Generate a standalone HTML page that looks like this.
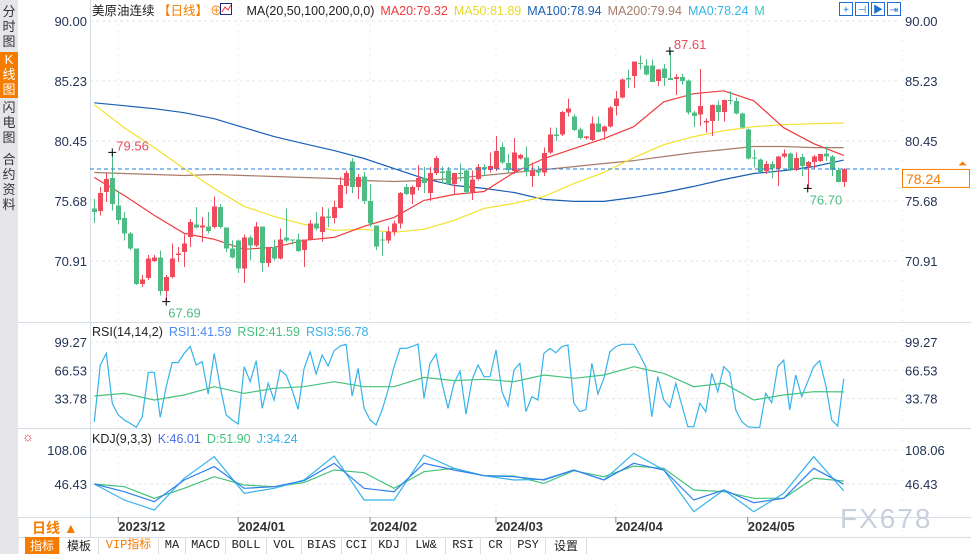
<!DOCTYPE html>
<html><head><meta charset="utf-8">
<style>
html,body{margin:0;padding:0;background:#fff;}
body{width:971px;height:554px;overflow:hidden;position:relative;font-family:"Liberation Sans","Noto Sans CJK SC",sans-serif;}
svg{position:absolute;left:0;top:0;}
.sb{position:absolute;left:0;width:18px;background:#e6e6ea;color:#333;font-size:13px;line-height:15px;text-align:center;}
.tb{position:absolute;top:537px;height:17px;font-size:12px;line-height:17px;text-align:center;border-right:1px solid #ddd;color:#222;font-family:"Liberation Mono","Noto Sans CJK SC",monospace;}
</style></head><body>
<div class="sb" style="top:0;height:554px;"></div>
<div class="sb" style="top:4px;height:46px;">分<br>时<br>图</div>
<div class="sb" style="top:52px;height:46px;background:#f57c00;color:#fff;">K<br>线<br>图</div>
<div class="sb" style="top:100px;height:46px;">闪<br>电<br>图</div>
<div class="sb" style="top:152px;height:62px;">合<br>约<br>资<br>料</div>

<svg id="chart" width="971" height="554" font-family="Liberation Sans, Noto Sans CJK SC, sans-serif"></svg>

<div class="tb" style="left:25px;width:34px;background:#f57c00;color:#fff;font-family:'Noto Sans CJK SC',sans-serif;">指标</div>
<div class="tb" style="left:60px;width:38px;font-family:'Noto Sans CJK SC',sans-serif;">模板</div>
<div class="tb" style="left:99px;width:59px;color:#f57c00;">VIP指标</div>
<div class="tb" style="left:159px;width:26px;">MA</div>
<div class="tb" style="left:186px;width:39px;">MACD</div>
<div class="tb" style="left:226px;width:40px;">BOLL</div>
<div class="tb" style="left:267px;width:34px;">VOL</div>
<div class="tb" style="left:302px;width:39px;">BIAS</div>
<div class="tb" style="left:342px;width:29px;">CCI</div>
<div class="tb" style="left:372px;width:34px;">KDJ</div>
<div class="tb" style="left:407px;width:38px;">LW&amp;</div>
<div class="tb" style="left:446px;width:34px;">RSI</div>
<div class="tb" style="left:481px;width:29px;">CR</div>
<div class="tb" style="left:511px;width:34px;">PSY</div>
<div class="tb" style="left:546px;width:40px;font-family:'Noto Sans CJK SC',sans-serif;">设置</div>

<script>
const opens=[75.08,74.89,76.40,77.53,75.34,74.36,73.10,71.91,69.08,69.58,70.93,71.19,68.55,69.66,71.38,71.64,72.83,73.81,73.57,73.68,73.62,75.21,73.57,71.91,72.57,70.32,72.78,72.17,73.68,70.77,72.04,71.11,72.78,72.65,72.65,71.78,72.65,73.89,73.23,74.47,74.34,75.13,76.87,78.83,76.79,77.64,75.68,73.76,72.65,72.57,73.23,73.89,76.79,76.19,76.79,77.53,76.32,77.90,78.03,78.11,77.06,77.90,78.11,76.40,77.45,78.41,78.17,78.22,79.99,78.70,78.09,79.07,79.14,77.69,78.09,77.96,79.54,80.99,80.99,82.71,82.39,81.39,80.68,80.54,81.86,81.20,81.60,83.24,83.90,85.48,85.61,86.67,86.46,86.46,85.22,86.22,85.48,85.40,85.56,85.27,82.71,82.58,81.92,82.05,83.32,82.76,83.71,83.63,82.66,81.39,79.14,79.01,78.09,78.62,78.27,79.22,79.46,78.17,79.20,78.43,78.80,78.88,79.46,79.22,78.14,77.22];
const closes=[74.81,76.34,77.45,75.47,74.20,73.10,71.91,69.08,69.45,71.11,71.19,68.55,69.66,71.11,71.51,72.30,74.02,73.57,73.76,73.31,75.26,73.62,71.91,71.19,70.32,72.78,72.17,73.68,70.77,72.04,71.11,72.65,72.57,72.57,71.70,72.65,73.89,73.49,74.47,74.34,75.21,76.98,77.90,76.79,77.58,75.68,73.89,72.09,72.57,73.28,73.89,76.32,76.26,76.79,77.53,77.11,77.90,79.09,77.90,77.06,77.90,77.85,76.40,77.40,78.38,78.22,78.48,79.67,78.75,78.17,79.54,79.33,78.04,78.09,77.96,79.49,80.99,80.86,82.76,83.05,81.34,80.68,80.81,81.86,81.18,81.60,83.11,83.82,85.35,85.35,86.78,86.59,85.75,85.17,86.14,85.48,85.30,85.56,85.22,82.71,82.45,83.24,82.05,83.32,82.76,83.71,83.63,82.66,81.52,79.07,79.07,78.01,78.62,78.27,79.22,79.46,78.17,79.09,78.48,78.80,79.22,79.41,79.22,78.17,77.22,78.24];
const highs=[75.87,76.79,77.90,79.56,76.53,74.81,73.23,71.91,69.79,71.38,71.38,71.77,69.79,72.30,72.04,73.04,74.28,75.21,74.42,74.81,76.05,75.47,73.57,72.57,72.62,73.04,72.96,74.02,73.68,72.04,72.62,73.49,75.08,72.65,73.10,72.65,74.20,74.81,75.21,75.08,75.74,77.58,78.11,79.12,77.85,77.98,77.06,73.76,73.23,73.68,74.15,76.40,77.06,76.92,78.56,78.38,78.38,79.25,78.43,78.38,77.90,78.69,78.25,78.11,78.64,78.62,79.54,80.86,80.33,79.41,80.68,79.41,80.02,78.75,78.48,79.94,81.52,81.52,82.84,83.82,82.58,81.52,80.86,82.39,82.39,81.71,83.24,84.43,85.43,86.14,86.80,87.25,86.94,86.94,86.20,86.59,87.61,85.80,85.80,85.35,82.84,86.20,82.23,83.37,83.69,83.77,84.43,83.90,82.71,81.44,79.80,79.07,78.88,78.88,79.28,79.80,79.54,79.54,79.41,78.88,79.33,79.41,80.02,79.33,78.35,78.30];
const lows=[73.94,74.55,75.60,74.94,73.83,72.57,71.78,69.00,68.87,69.40,70.85,68.16,67.69,69.53,70.85,70.45,72.04,73.49,72.44,73.10,73.49,73.49,71.64,71.11,69.98,69.19,70.98,72.04,70.06,70.45,70.98,71.06,72.44,72.25,71.64,70.45,72.57,73.36,72.49,73.62,73.89,75.08,76.26,76.32,75.87,75.47,73.62,71.78,71.33,72.30,72.96,73.49,76.13,75.47,76.53,76.32,75.68,77.77,77.11,76.98,76.26,77.24,76.26,75.79,77.32,77.69,77.96,78.09,78.62,77.96,77.82,79.01,77.64,76.82,77.69,77.69,79.41,80.47,80.86,82.39,81.26,80.60,80.60,80.47,81.13,80.54,81.52,82.50,83.82,84.69,84.69,86.14,85.67,85.14,84.82,84.82,85.30,84.11,84.95,82.58,81.57,81.65,81.13,80.86,82.05,82.00,83.37,82.58,81.44,79.01,78.35,77.96,77.82,77.48,76.90,79.09,78.09,78.09,77.69,76.70,78.22,78.80,78.88,77.69,77.16,76.82];
// moving averages sampled every 5 candles (index 0,5,...,125)
const ma20=[77.56,76.13,74.55,73.12,72.65,71.85,72.01,72.57,72.80,73.68,74.39,75.74,76.21,76.45,77.96,79.07,79.86,80.65,81.60,83.58,84.22,84.45,83.66,81.52,80.25,79.32];
const ma50=[83.34,81.52,79.94,78.27,76.69,75.26,74.47,73.83,73.36,73.44,73.20,73.44,74.15,75.10,75.50,76.05,77.08,77.96,79.14,80.17,80.81,81.28,81.60,81.76,81.84,81.89];
const ma100=[83.50,83.27,83.03,82.71,82.23,81.52,80.81,80.25,79.70,79.07,78.27,77.48,76.93,76.69,76.37,75.82,75.66,75.66,75.97,76.37,76.85,77.40,77.88,78.11,78.43,78.94];
const ma200=[77.96,77.88,77.80,77.72,77.80,77.72,77.64,77.56,77.48,77.32,77.24,77.32,77.48,77.72,77.96,78.19,78.43,78.67,78.90,79.22,79.54,79.78,80.02,80.02,79.94,79.94];
const rsi3=[7,72.7,86.2,28.3,14.9,9.1,5.2,0.6,12.9,64.2,64.2,12.2,47.6,75.4,75.4,86.2,93.9,72.7,76.5,39.1,86.2,47.6,14.9,9.1,4.5,70.7,53.4,77.7,22.6,51.5,32.2,66.9,61.1,43.8,21.4,68.8,88.1,62.3,84.2,71.5,89.2,94.6,96.6,36.8,68.8,22.6,9.1,3.3,20.6,43.8,70.7,91.9,91.9,93.9,97.0,34.1,74.6,85.4,51.5,22.6,51.5,65.7,16.0,55.3,72.7,59.2,59.2,90.0,41.8,25.3,66.9,74.6,18.7,36.1,32.2,86.2,91.9,86.9,93.9,95.8,28.4,18.7,21.4,74.6,39.1,57.3,88.1,93.9,96.6,96.6,96.6,84.2,70.7,12.9,59.2,32.2,23.7,51.5,26.4,1.4,1.4,28.4,18.7,63.0,41.8,70.7,63.8,20.6,7.2,1.4,0.6,0.6,39.9,29.1,70.7,78.4,20.6,61.1,36.1,53.4,70.7,77.7,49.6,9.1,2.1,56.8];
const rsi1=[36.8,39.9,32.2,38.0,47.6,39.9,45.7,47.6,53.4,47.6,47.6,58.4,54.6,56.1,53.4,61.1,57.3,61.1,70.7,63.0,47.6,51.5,32.2,38.0,41.8,41.6];
const kdjK=[46.4,32.5,14.4,53.7,77.9,38.6,41.6,52.5,83.9,38.6,32.5,83.9,71.8,61.5,59.7,53.7,71.8,53.7,83.9,71.8,17.4,35.6,12.6,20.5,74.8,46.01];
const kdjD=[46.4,41.6,20.5,38.6,59.7,44.6,41.6,48.9,71.8,67.0,38.6,68.8,74.8,61.5,60.9,47.6,70.6,59.7,79.1,74.8,35.6,32.5,20.5,20.5,56.7,51.90];
const kdjJ=[46.4,17.4,-0.7,56.7,96.0,29.5,38.6,53.7,97.2,17.4,17.4,99.0,74.8,61.5,53.7,54.9,71.8,53.7,102.0,71.8,-3.7,35.6,-3.7,29.5,96.0,34.24];
const priceTicks=[90.00,85.23,80.45,75.68,70.91];
const rsiTicks=[99.27,66.53,33.78];
const kdjTicks=[108.06,46.43];
const monthLabels=["2023/12","2024/01","2024/02","2024/03","2024/04","2024/05"];
const monthIdx=[4,24,46,67,87,109];
const lastPrice=78.24;

const NS="http://www.w3.org/2000/svg";
const svg=document.getElementById('chart');
const X0=90,X1=900;
const xi=i=>94.3+i*5.995;
const yP=p=>21+(90-p)*12.58;
const yR=v=>342+(99.27-v)*0.865;
const yK=v=>450+(108.06-v)*0.5517;
function mk(tag,attrs,parent){const e=document.createElementNS(NS,tag);for(const k in attrs)e.setAttribute(k,attrs[k]);(parent||svg).appendChild(e);return e;}
function txt(s,x,y,attrs){const t=mk('text',Object.assign({x:x,y:y},attrs));t.textContent=s;return t;}

// frame lines
let g=mk('g',{});


[[18,322,971,322],[18,428,971,428],[18,517,971,517],[18,537,971,537]].forEach(a=>mk('line',{x1:a[0],y1:a[1]+0.5,x2:a[2],y2:a[3]+0.5,stroke:'#d6dde6'},g));
mk('line',{x1:X0+0.5,y1:0,x2:X0+0.5,y2:537,stroke:'#d6dde6'},g);
mk('line',{x1:X1+2.5,y1:0,x2:X1+2.5,y2:537,stroke:'#d6dde6','stroke-dasharray':'1,9'},g);

// grids & axis labels
const gg=mk('g',{});


priceTicks.forEach(p=>{const y=yP(p);mk('line',{x1:X0,y1:y,x2:X1,y2:y,stroke:'#e3e3e3','stroke-dasharray':'3,3'},gg);
 const a=txt(p.toFixed(2),905,y+5,{'font-size':13,fill:'#223355'});
 const b=txt(p.toFixed(2),87,y+5,{'font-size':13,fill:'#223355','text-anchor':'end'});});
rsiTicks.forEach(v=>{const y=yR(v);mk('line',{x1:X0,y1:y,x2:X1,y2:y,stroke:'#e3e3e3','stroke-dasharray':'3,3'},gg);
 const a=txt(v.toFixed(2),905,y+5,{'font-size':13,fill:'#223355'});
 const b=txt(v.toFixed(2),87,y+5,{'font-size':13,fill:'#223355','text-anchor':'end'});});
kdjTicks.forEach(v=>{const y=yK(v);mk('line',{x1:X0,y1:y,x2:X1,y2:y,stroke:'#e3e3e3','stroke-dasharray':'3,3'},gg);
 const a=txt(v.toFixed(2),905,y+5,{'font-size':13,fill:'#223355'});
 const b=txt(v.toFixed(2),87,y+5,{'font-size':13,fill:'#223355','text-anchor':'end'});});
monthLabels.forEach((m,k)=>{const x=xi(monthIdx[k]);
 mk('line',{x1:x,y1:0,x2:x,y2:517,stroke:'#ececec','stroke-dasharray':'2,4'},gg);
 mk('line',{x1:x,y1:517,x2:x,y2:523,stroke:'#888'},gg);
 const t=txt(m,x,531,{'font-size':13,'font-weight':'bold',fill:'#333'});});

// MA lines
function sampled(arr,yf,color,name){const pts=arr.map((v,k)=>xi(Math.min(k*5,125)).toFixed(1)+','+yf(v).toFixed(1)).join(' ');
 const l=mk('polyline',{points:pts,fill:'none',stroke:color,'stroke-width':1.2});}
sampled(ma200,yP,'#a87c6a','ma200-line');
sampled(ma100,yP,'#1a5fb4','ma100-line');
sampled(ma50,yP,'#f2e22a','ma50-line');
sampled(ma20,yP,'#ee3b3b','ma20-line');

// candles
const cg=mk('g',{'shape-rendering':'crispEdges'});


opens.forEach((o,i)=>{const c=closes[i];const up=c>=o;const col=up?'#ee4b5d':'#4fbb85';const x=Math.round(xi(i));
 const w=mk('line',{x1:x+0.5,y1:yP(highs[i]),x2:x+0.5,y2:yP(lows[i]),stroke:col},cg);
 
 
 const top=yP(Math.max(o,c)),bot=yP(Math.min(o,c));
 const r=mk('rect',{x:x-2,y:top,width:5,height:Math.max(1,bot-top),fill:col},cg);
 
 });

// last price line
const lp=mk('line',{x1:X0,y1:yP(lastPrice),x2:X1,y2:yP(lastPrice),stroke:'#1e7fe0','stroke-dasharray':'4,3'});


const lb=mk('rect',{x:902.5,y:yP(lastPrice)+0.5,width:67,height:18,fill:'#fff',stroke:'#f57c00'});


const lt=txt(lastPrice.toFixed(2),906,yP(lastPrice)+15,{'font-size':14,fill:'#f57c00'});


txt('⏶',958,yP(lastPrice)-2,{'font-size':11,fill:'#f57c00'});

// extremes markers
function marker(i,p,label,col,dx,dy,name){const x=xi(i),y=yP(p);
 mk('path',{d:`M${x-4} ${y}H${x+4}M${x} ${y-4}V${y+4}`,stroke:'#000','stroke-width':1});
 const t=txt(label,x+dx,y+dy,{'font-size':13,fill:col});}
marker(3,highs[3],'79.56','#e84c5c',4,-2,'high-label-79-56');
marker(12,lows[12],'67.69','#4fbb85',2,16,'low-label-67-69');
marker(96,highs[96],'87.61','#e84c5c',4,-2,'high-label-87-61');
marker(119,lows[119],'76.70','#4fbb85',2,16,'low-label-76-70');

// RSI
const r3=mk('polyline',{points:rsi3.map((v,i)=>xi(i).toFixed(1)+','+yR(v).toFixed(1)).join(' '),fill:'none',stroke:'#35b3ea','stroke-width':1.2});


sampled(rsi1,yR,'#45c27a','rsi1-line');

// KDJ
sampled(kdjD,yK,'#45c27a','kdj-d-line');
sampled(kdjJ,yK,'#35b3ea','kdj-j-line');
sampled(kdjK,yK,'#2f7ff0','kdj-k-line');

// legends
function legend(y,parts,name){const t=mk('text',{x:92,y:y,'font-size':12.5});
 parts.forEach(p=>{const s=mk('tspan',{fill:p[1],dx:p[2]||0},t);s.textContent=p[0];});}
legend(15,[['美原油连续 ','#222'],['【日线】','#f57c00'],['⊕','#f57c00',2],['MA(20,50,100,200,0,0)','#222',24],['MA20:79.32','#ee3b3b',6],['MA50:81.89','#e8d92a',6],['MA100:78.94','#1a5fb4',6],['MA200:79.94','#a87c6a',6],['MA0:78.24','#35b3ea',6],['M','#3ac7c0',6]],'main-legend');
const ic=mk('g',{});
mk('rect',{x:220.5,y:3.5,width:11,height:11,fill:'#fff',stroke:'#1a2a8a'},ic);mk('polyline',{points:'222,12 225,7 228,10 231,5',fill:'none',stroke:'#e33'},ic);
legend(336,[['RSI(14,14,2)','#222'],['RSI1:41.59','#4a8cf0',6],['RSI2:41.59','#45c27a',6],['RSI3:56.78','#35b3ea',6]],'rsi-legend');
legend(443,[['KDJ(9,3,3)','#222'],['K:46.01','#4a6cf0',6],['D:51.90','#45c27a',6],['J:34.24','#35b3ea',6]],'kdj-legend');
const sun=txt('☼',22,441,{'font-size':13,fill:'#d33'});

// top right tool icons
['+','⊣','▶','⇥'].forEach((s,k)=>{const gx=mk('g',{});
 mk('rect',{x:839.5+k*16,y:2.5,width:13,height:13,fill:'#fff',stroke:'#1e6fd0'},gx);
 const t=txt(s,846+k*16,13,{'font-size':10,fill:'#1e6fd0','text-anchor':'middle'},gx);gx.appendChild(t);});

// bottom left period selector
const per=txt('日线 ▲',32,533,{'font-size':14,'font-weight':'bold',fill:'#f57c00'});


mk('line',{x1:18,y1:517,x2:18,y2:554,stroke:'#ddd'});
// watermark
const wm=txt('FX678',840,528,{'font-size':28,fill:'#c8d0dc','letter-spacing':'2'});


</script>
</body></html>
